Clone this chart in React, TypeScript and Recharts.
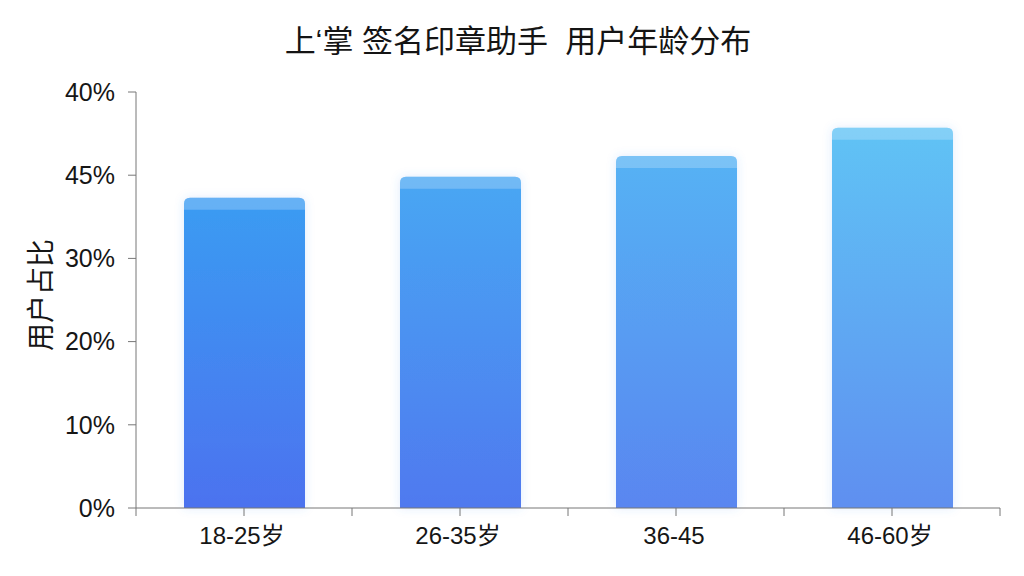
import { Bar, BarChart, Cell, XAxis, YAxis } from "recharts";

const ageGroups = ["18-25岁", "26-35岁", "36-45", "46-60岁"];
const userShare = [37.3, 39.8, 42.3, 45.7];
const yTicks = [0, 10, 20, 30, 40, 50];
const yTickLabels = ["0%", "10%", "20%", "30%", "45%", "40%"];

const barTop = ["#3a9cf2", "#48a7f3", "#56b2f4", "#60c3f5"];
const barBottom = ["#4c72ef", "#5079ef", "#5a86f0", "#5e8ff0"];

const FONT = '"Liberation Sans", Arial, "Noto Sans CJK SC", sans-serif';
const HALF_BAND = 108;

const data = ageGroups.map((group, i) => ({ group, share: userShare[i] }));

function BarShape(props: any) {
  const { x, y, width, height, index } = props;
  const r = 6;
  const cap = 12;
  const body = `M${x},${y + height} L${x},${y + r} Q${x},${y} ${x + r},${y} L${x + width - r},${y} Q${x + width},${y} ${x + width},${y + r} L${x + width},${y + height} Z`;
  const top = `M${x},${y + cap} L${x},${y + r} Q${x},${y} ${x + r},${y} L${x + width - r},${y} Q${x + width},${y} ${x + width},${y + r} L${x + width},${y + cap} Z`;
  return (
    <g>
      <path d={body} fill={`url(#barGrad${index})`} filter="url(#barGlow)" />
      <path d={top} fill="#ffffff" fillOpacity={0.22} />
    </g>
  );
}

function AgeTick(props: any) {
  const { x, y, payload, index } = props;
  const half = payload?.offset || HALF_BAND;
  return (
    <g>
      <line x1={x} x2={x} y1={y} y2={y + 8} stroke="#777" />
      <line x1={x - half} x2={x - half} y1={y} y2={y + 8} stroke="#777" />
      {index === ageGroups.length - 1 && (
        <line x1={x + half} x2={x + half} y1={y} y2={y + 8} stroke="#777" />
      )}
      <text x={x - 2} y={y + 36} textAnchor="middle" fontSize={24} fill="#161616" fontFamily={FONT}>
        {payload.value}
      </text>
    </g>
  );
}

export default function App() {
  return (
    <div style={{ position: "relative", width: 1024, height: 576, background: "#fff", fontFamily: FONT }}>
      <style>{`body{margin:0}`}</style>
      <div
        style={{
          position: "absolute",
          top: 24,
          left: 0,
          width: 1036,
          textAlign: "center",
          fontSize: 31,
          color: "#141414",
          whiteSpace: "pre",
          fontFamily: '"Liberation Sans", "Noto Sans CJK SC", sans-serif',
          lineHeight: "36px",
        }}
      >
        上‘掌 签名印章助手  用户年龄分布
      </div>
      <BarChart
        width={1024}
        height={576}
        data={data}
        margin={{ top: 92, right: 24, bottom: 28, left: 56 }}
      >
        <defs>
          {barTop.map((c, i) => (
            <linearGradient key={i} id={`barGrad${i}`} x1="0" y1="0" x2="0" y2="1">
              <stop offset="0%" stopColor={c} />
              <stop offset="100%" stopColor={barBottom[i]} />
            </linearGradient>
          ))}
          <filter id="barGlow" x="-20%" y="-20%" width="140%" height="140%">
            <feDropShadow dx="0" dy="0" stdDeviation="5" floodColor="#4a8cf0" floodOpacity="0.18" />
          </filter>
        </defs>
        <XAxis
          dataKey="group"
          height={40}
          axisLine={{ stroke: "#777" }}
          tickLine={false}
          tickSize={0}
          tickMargin={0}
          interval={0}
          tick={<AgeTick />}
        />
        <YAxis
          width={80}
          domain={[0, 50]}
          ticks={yTicks}
          interval={0}
          axisLine={{ stroke: "#777" }}
          tickLine={{ stroke: "#777" }}
          tickSize={8}
          tickMargin={13}
          tick={{ fontSize: 25, fill: "#161616", fontFamily: FONT }}
          tickFormatter={(v: number) => yTickLabels[yTicks.indexOf(v)]}
          label={{
            content: (p: any) => {
              const vb = p.viewBox || { x: 56, y: 92, height: 416 };
              const cx = vb.x - 17;
              const cy = vb.y + vb.height / 2 - 5;
              return (
                <text
                  x={cx}
                  y={cy}
                  transform={`rotate(-90 ${cx} ${cy})`}
                  textAnchor="middle"
                  dominantBaseline="central"
                  fontSize={28}
                  fill="#161616"
                  fontFamily='"Noto Sans CJK SC", sans-serif'
                >
                  用户占比
                </text>
              );
            },
          }}
        />
        <Bar dataKey="share" barSize={121} shape={<BarShape />} isAnimationActive={false}>
          {data.map((d, i) => (
            <Cell key={d.group} fill={`url(#barGrad${i})`} />
          ))}
        </Bar>
      </BarChart>
    </div>
  );
}
